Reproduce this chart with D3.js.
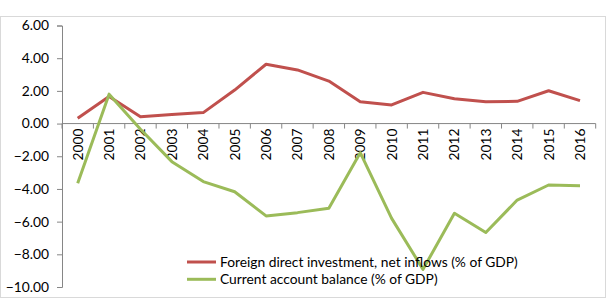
<!DOCTYPE html>
<html>
<head>
<meta charset="utf-8">
<script src="https://cdn.jsdelivr.net/npm/d3@7"></script>
<style>
  body { margin: 0; background: #fff; }
  svg { display: block; font-family: Lato, "Open Sans", sans-serif; }
</style>
</head>
<body>
<svg id="chart" width="608" height="299"></svg>
<script>
const years = ['2000','2001','2002','2003','2004','2005','2006','2007','2008',
  '2009','2010','2011','2012','2013','2014','2015','2016'];
const fdi = [0.32, 1.65, 0.42, 0.55, 0.67, 2.05, 3.63, 3.28, 2.6,
  1.34, 1.14, 1.91, 1.52, 1.34, 1.36, 2.01, 1.40];
const cab = [-3.65, 1.8, -0.35, -2.33, -3.55, -4.17, -5.65, -5.45, -5.18,
  -1.78, -5.8, -8.92, -5.49, -6.67, -4.68, -3.76, -3.8];
const yTicks = [6, 4, 2, 0, -2, -4, -6, -8, -10];
const seriesNames = ['Foreign direct investment, net inflows (% of GDP)', 'Current account balance (% of GDP)'];
const seriesColors = ['#C0504D', '#9BBB59'];

const svg = d3.select('#chart');

// outer chart border
svg.append('rect').attr('x', 0.5).attr('y', 16.5).attr('width', 605).attr('height', 281)
  .attr('fill', 'none').attr('stroke', '#d9d9d9');

const x = d3.scaleBand().domain(years).range([62, 595.7]);
const y = d3.scaleLinear().domain([-10, 6]).range([287, 25.5]);

// y axis
const yAxis = svg.append('g').attr('transform', 'translate(62,0)')
  .call(d3.axisLeft(y).tickValues(yTicks).tickSize(5).tickFormat(d3.format('.2f')));
yAxis.select('.domain').attr('stroke', '#868686');
yAxis.selectAll('.tick line').attr('stroke', '#868686');
yAxis.selectAll('.tick text').attr('fill', '#000').attr('font-size', '13.8px')
  .attr('font-family', 'Lato, sans-serif').attr('x', -13);

// x axis at zero
const xAxisG = svg.append('g').attr('transform', `translate(0,${y(0)})`);
xAxisG.append('line').attr('x1', 62).attr('x2', 595.7).attr('stroke', '#868686');
const edges = years.map(d => x(d)).concat([595.7]);
xAxisG.selectAll('line.tk').data(edges).enter().append('line').attr('class', 'tk')
  .attr('x1', d => d).attr('x2', d => d).attr('y1', 0).attr('y2', 5).attr('stroke', '#868686');
xAxisG.selectAll('text').data(years).enter().append('text')
  .attr('transform', d => `translate(${x(d) + x.bandwidth() / 2 + 5},5) rotate(-90)`)
  .attr('text-anchor', 'end').attr('font-size', '13.8px').attr('fill', '#000')
  .text(d => d);

const line = d3.line().x((d, i) => x(years[i]) + x.bandwidth() / 2).y(d => y(d));
[fdi, cab].forEach((s, k) => {
  svg.append('path').datum(s).attr('d', line).attr('fill', 'none')
    .attr('stroke', seriesColors[k]).attr('stroke-width', 3).attr('stroke-linejoin', 'round');
});

// legend
const leg = svg.append('g');
seriesNames.forEach((n, k) => {
  const ly = 262 + k * 17.3;
  leg.append('line').attr('x1', 187).attr('x2', 216).attr('y1', ly).attr('y2', ly)
    .attr('stroke', seriesColors[k]).attr('stroke-width', 3);
  leg.append('text').attr('x', 220).attr('y', ly + 5).attr('font-size', '13.8px')
    .attr('fill', '#000').text(n);
});
</script>
</body>
</html>
